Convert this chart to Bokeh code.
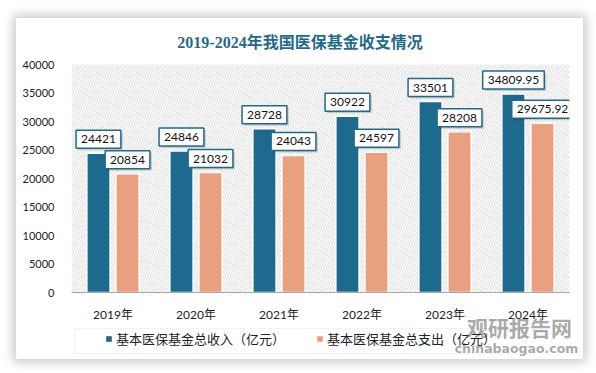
from bokeh.plotting import figure
from bokeh.layouts import column, row
from bokeh.models import (FactorRange, ColumnDataSource, BoxAnnotation, Label,
                          Legend, LegendItem, FixedTicker, Spacer)
from bokeh.transform import dodge
from bokeh.core.properties import value
from bokeh.embed import file_html
from bokeh.resources import INLINE

# ---- data ----
years = ["2019年", "2020年", "2021年", "2022年", "2023年", "2024年"]
income = [24421, 24846, 28728, 30922, 33501, 34809.95]
expense = [20854, 21032, 24043, 24597, 28208, 29675.92]
income_labels = ["24421", "24846", "28728", "30922", "33501", "34809.95"]
expense_labels = ["20854", "21032", "24043", "24597", "28208", "29675.92"]
y_ticks = [0, 5000, 10000, 15000, 20000, 25000, 30000, 35000, 40000]
series_names = ["基本医保基金总收入（亿元）", "基本医保基金总支出（亿元）"]
title_text = "2019-2024年我国医保基金收支情况"
watermark = ["观研报告网", "chinabaogao.com"]

INC_COLOR = "#1d6a8e"
EXP_COLOR = "#e9a07f"
BOX_COLOR = "#1f6a8c"
NUM_FONT = "Lato, 'Noto Sans CJK SC'"
CJK_FONT = "'Noto Sans CJK SC'"
W = 567


def blank(h, transparent=False):
    f = figure(width=W, height=h, x_range=(0, W), y_range=(0, h),
               output_backend="svg", toolbar_location=None, min_border=0,
               background_fill_color="white", border_fill_color="white",
               outline_line_color=None, frame_align=False)
    if transparent:
        f.background_fill_alpha = 0
        f.border_fill_alpha = 0
    f.axis.visible = False
    f.grid.visible = False
    return f


# ---- header (title) ----
head = blank(38)
head.add_layout(Label(text=title_text, x=283.5, y=14, x_units="screen", y_units="screen",
                      text_align="center", text_baseline="middle",
                      text_font="'Liberation Serif', 'Noto Sans CJK SC'",
                      text_font_style="bold", text_font_size="16px",
                      text_color="#1f6b8c"))

# ---- main chart ----
src = ColumnDataSource(dict(year=years, income=income, expense=expense,
                            inc_lab=income_labels, exp_lab=expense_labels))

p = figure(width=W, height=303, x_range=FactorRange(*years, range_padding=0),
           y_range=(0, 40000), output_backend="svg", toolbar_location=None,
           min_border_left=55, min_border_right=14, min_border_top=8,
           min_border_bottom=67, background_fill_color="white",
           border_fill_color="white", outline_line_color=None, frame_align=False)

p.add_layout(BoxAnnotation(fill_alpha=0, line_alpha=0, hatch_pattern="\\",
                           hatch_color="#d2d2d2", hatch_scale=5, hatch_weight=0.8,
                           level="underlay"))
p.grid.visible = False

r1 = p.vbar(x=dodge("year", -0.175, range=p.x_range), top="income", width=0.28,
            fill_color=INC_COLOR, line_color="white", line_width=1.5, source=src)
r2 = p.vbar(x=dodge("year", 0.175, range=p.x_range), top="expense", width=0.28,
            fill_color=EXP_COLOR, line_color="white", line_width=1.5, source=src)

pad = dict(left=5, right=5, top=5, bottom=5)
for off, col, lab in [(-0.175, "income", "inc_lab"), (0.175, "expense", "exp_lab")]:
    p.text(x=dodge("year", off, range=p.x_range), y=col, text=lab, source=src,
           text_align="center", text_baseline="bottom", x_offset=2, y_offset=-3,
           text_font=value("Lato"), text_font_size="12px", text_alpha=0,
           background_fill_color="#000000", background_fill_alpha=0.16,
           padding=pad)
    p.text(x=dodge("year", off, range=p.x_range), y=col, text=lab, source=src,
           text_align="center", text_baseline="bottom", y_offset=-5,
           text_font=value("Lato"), text_font_size="12px", text_color="#111111",
           background_fill_color="white", border_line_color=BOX_COLOR,
           border_line_width=1.5, padding=pad)

p.yaxis.ticker = FixedTicker(ticks=y_ticks)
p.yaxis.axis_line_color = None
p.yaxis.major_tick_line_color = None
p.yaxis.minor_tick_line_color = None
p.yaxis.major_label_standoff = 11
p.yaxis.major_label_text_font = NUM_FONT
p.yaxis.major_label_text_font_size = "11px"
p.yaxis.major_label_text_color = "#222222"

p.xaxis.axis_line_color = "#a6a6a6"
p.xaxis.axis_line_width = 1
p.xaxis.major_tick_line_color = None
p.xaxis.minor_tick_line_color = None
p.xaxis.major_label_standoff = 8
p.xaxis.major_label_text_font = NUM_FONT
p.xaxis.major_label_text_font_size = "12px"
p.xaxis.major_label_text_color = "#222222"

# ---- footer overlay (legend + watermark), transparent, drawn over p's bottom ----
foot = blank(50, transparent=True)
foot.styles = {"margin-top": "-50px"}
foot.add_layout(BoxAnnotation(left=58, right=509, bottom=6, top=31, fill_alpha=0,
                              line_color="#d6d6d6", line_width=1))
nan = float("nan")
proxy = ColumnDataSource(dict(l=[nan], r=[nan], t=[nan], b=[nan]))
g1 = foot.quad(left="l", right="r", top="t", bottom="b", fill_color=INC_COLOR,
               line_color=None, source=proxy)
g2 = foot.quad(left="l", right="r", top="t", bottom="b", fill_color=EXP_COLOR,
               line_color=None, source=proxy)
for g, name, lx in [(g1, series_names[0], 89), (g2, series_names[1], 300)]:
    foot.add_layout(Legend(items=[LegendItem(label=name, renderers=[g])],
                           location=(lx, 11), orientation="horizontal", padding=0,
                           margin=0, spacing=0, glyph_width=7, glyph_height=7,
                           label_standoff=4, label_height=16, border_line_alpha=0,
                           background_fill_alpha=0, label_text_font=CJK_FONT,
                           label_text_font_size="13px", label_text_color="#222222"))

foot.add_layout(Label(text=watermark[0], x=503, y=33, x_units="screen", y_units="screen",
                      text_align="center", text_baseline="middle", text_font=CJK_FONT,
                      text_font_style="bold", text_font_size="21px",
                      text_color="#9a9a9a", text_alpha=0.85))
foot.add_layout(Label(text=watermark[1], x=500, y=11.5, x_units="screen",
                      y_units="screen", text_align="center", text_baseline="middle",
                      text_font="'DejaVu Sans'", text_font_style="bold",
                      text_font_size="12.5px", text_color="#9a9a9a", text_alpha=0.85))

card = column(head, p, foot, spacing=0,
              styles={"box-shadow": "0 0 10px 3px rgba(0,0,0,0.22)"})
page = column(Spacer(height=18), row(Spacer(width=16), card, spacing=0), spacing=0)

open("out.html", "w").write(file_html(page, INLINE))
